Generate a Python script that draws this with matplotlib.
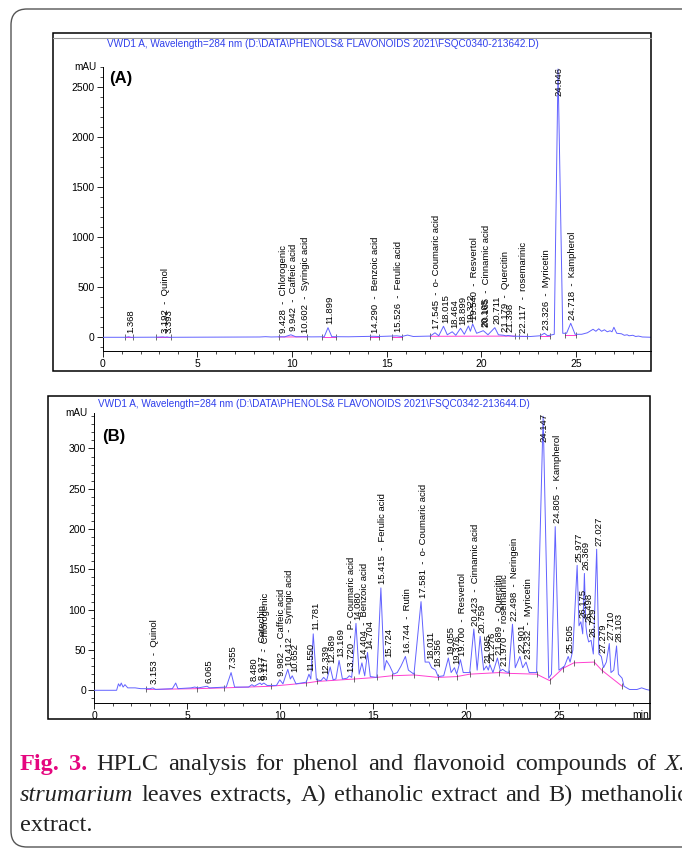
import numpy as np
import matplotlib.pyplot as plt
from matplotlib.patches import FancyBboxPatch, Rectangle
from matplotlib.ticker import MultipleLocator
from matplotlib.transforms import IdentityTransform

plt.rcParams['font.family'] = ['Liberation Sans', 'DejaVu Sans']

W, H = 682, 849

# ---- panel A: ethanolic extract (time min, signal mAU) ----
a_t = [0.0, 1.2, 1.37, 1.5, 2.8, 3.19, 3.3, 3.39, 3.5, 5.0, 8.3, 8.6, 8.9, 9.43, 9.6,
       9.94, 10.2, 10.6, 11.0, 11.7, 11.9, 12.1, 13.0, 14.29, 14.6, 15.53, 15.8, 16.1,
       16.4, 17.3, 17.55, 17.75, 18.0, 18.2, 18.46, 18.65, 18.9, 19.1, 19.32, 19.42,
       19.54, 19.75, 20.1, 20.17, 20.35, 20.71, 20.9, 21.18, 21.3, 21.4, 21.7, 22.12,
       22.6, 23.1, 23.33, 23.5, 23.85, 24.05, 24.3, 24.5, 24.72, 24.95, 25.3, 25.6,
       25.9, 26.05, 26.2, 26.35, 26.5, 26.65, 26.8, 26.9, 27.0, 27.15, 27.4, 27.55,
       27.7, 27.8, 28.0, 28.15, 28.3, 28.5, 29.0]
a_v = [0, 0, 5, 0, 1, 4, 1, 4, 0, 1, 3, 6, 3, 5, 4,
       25, 5, 6, 4, 5, 96, 6, 5, 10, 8, 14, 8, 22,
       8, 12, 45, 15, 110, 25, 55, 20, 90, 30, 113, 60,
       133, 40, 66, 55, 25, 96, 25, 20, 14, 18, 10, 10,
       8, 15, 40, 15, 30, 2680, 40, 40, 140, 30, 30, 45,
       80, 60, 85, 60, 75, 55, 65, 55, 100, 40, 35, 20,
       25, 15, 20, 8, 12, 3, 0]
a_base_t = [[1.2, 1.6], [2.8, 3.6], [9.3, 10.8], [11.6, 12.3], [14.1, 14.6],
            [15.3, 15.8], [17.3, 21.8], [22.0, 22.4], [23.1, 23.6], [24.4, 25.0]]
a_base_v = [[0, 0], [1, 1], [3, 4], [4, 4], [5, 5],
            [6, 6], [10, 12], [8, 8], [12, 12], [25, 25]]
a_lab_t = [1.368, 3.192, 3.393, 9.428, 9.942, 10.602, 11.899, 14.290, 15.526, 17.545,
           18.015, 18.464, 18.899, 19.322, 19.540, 20.105, 20.165, 20.711, 21.179,
           21.398, 22.117, 23.326, 24.046, 24.718]
a_lab_n = ['', 'Quinol', '', 'Chlorogenic', 'Caffeic acid', 'Syringic acid', '',
           'Benzoic acid', 'Ferulic acid', 'o- Coumaric acid', '', '', '', '',
           'Resvertol', '', 'Cinnamic acid', '', 'Quercitin', '', 'rosemarinic',
           'Myricetin', '', 'Kampherol']

# ---- panel B: methanolic extract ----
b_t = [0.0, 1.2, 1.3, 1.38, 1.45, 1.55, 1.65, 1.8, 2.2, 2.5, 3.0, 3.15, 3.3, 4.2, 4.38,
       4.5, 5.2, 5.4, 5.6, 6.07, 6.2, 7.1, 7.36, 7.55, 8.3, 8.48, 8.6, 8.92, 9.0, 9.12,
       9.3, 9.8, 9.98, 10.15, 10.41, 10.55, 10.65, 10.85, 11.4, 11.55, 11.65, 11.78,
       11.95, 12.2, 12.34, 12.5, 12.69, 12.85, 13.0, 13.17, 13.35, 13.6, 13.72, 13.85,
       14.08, 14.25, 14.4, 14.55, 14.7, 14.85, 15.2, 15.42, 15.6, 15.72, 15.9, 16.1,
       16.3, 16.5, 16.74, 16.9, 17.2, 17.58, 17.8, 18.01, 18.15, 18.36, 18.5, 18.8,
       19.05, 19.2, 19.38, 19.5, 19.7, 19.85, 20.2, 20.42, 20.6, 20.76, 20.95, 21.1,
       21.2, 21.28, 21.45, 21.69, 21.85, 21.97, 22.15, 22.3, 22.5, 22.65, 22.9, 23.05,
       23.23, 23.4, 23.8, 24.15, 24.45, 24.6, 24.8, 25.0, 25.3, 25.5, 25.6, 25.75,
       25.98, 26.08, 26.18, 26.28, 26.37, 26.45, 26.5, 26.6, 26.73, 26.85, 27.03,
       27.15, 27.28, 27.4, 27.55, 27.71, 27.8, 27.95, 28.1, 28.2, 28.4, 28.5, 28.8,
       29.2, 29.45, 29.7, 29.9]
b_v = [0, 0, 8, 5, 9, 4, 7, 3, 3, 2, 2, 3, 1, 2, 9,
       2, 3, 4, 3, 5, 3, 4, 22, 4, 4, 7, 5, 9, 7, 9,
       6, 6, 13, 8, 26, 14, 18, 8, 10, 20, 14, 70,
       13, 12, 16, 12, 29, 13, 14, 37, 14, 15, 18, 16,
       83, 20, 34, 18, 47, 17, 16, 127, 25, 37, 30, 20,
       22, 30, 42, 25, 20, 110, 35, 35, 28, 25, 17, 18,
       40, 22, 28, 20, 38, 22, 22, 76, 25, 67, 25, 30,
       25, 32, 22, 40, 24, 26, 23, 22, 82, 28, 42, 28,
       35, 22, 22, 340, 15, 20, 203, 25, 30, 42, 35, 50,
       155, 80, 85, 70, 145, 80, 70, 60, 62, 45, 175,
       45, 42, 28, 35, 58, 22, 25, 55, 20, 15, 5, 1,
       1, 3, 1, 0]
b_base_t = [2.8, 5.5, 7.0, 9.5, 11.4, 12.0, 14.0, 15.2, 16.0, 17.2, 18.5, 19.5, 20.2,
            21.8, 22.3, 23.8, 24.5, 25.2, 25.8, 26.9, 27.3, 28.4]
b_base_v = [1, 2, 3, 5, 9, 11, 14, 16, 18, 19, 16, 17, 20,
            22, 21, 20, 12, 27, 34, 35, 25, 5]
b_lab_t = [3.153, 6.065, 7.355, 8.480, 8.917, 9.117, 9.982, 10.412, 10.652, 11.550,
           11.781, 12.339, 12.689, 13.169, 13.720, 14.080, 14.404, 14.704, 15.415,
           15.724, 16.744, 17.581, 18.011, 18.356, 19.055, 19.376, 19.700, 20.423,
           20.759, 21.095, 21.276, 21.689, 21.970, 22.498, 22.901, 23.232, 24.147,
           24.805, 25.505, 25.977, 26.175, 26.369, 26.498, 26.729, 27.027, 27.279,
           27.710, 28.103]
b_lab_n = ['Quinol', '', '', '', 'Catechin', 'Chlorogenic', 'Caffeic acid',
           'Syringic acid', '', '', '', '', '', '', 'P- Coumaric acid', '',
           'Benzoic acid', '', 'Ferulic acid', '', 'Rutin', 'o- Coumaric acid', '', '',
           '', '', 'Resvertol', 'Cinnamic acid', '', '', '', 'Quercitin', 'rosemarinic',
           'Neringein', '', 'Myricetin', '', 'Kampherol', '', '', '', '', '', '', '',
           '', '', '']

TRACE = '#6262ff'
BASE = '#ff3fd0'
TITLE = '#3040ec'

fig = plt.figure(figsize=(W / 100, H / 100), dpi=100)


def frac(l, t, r, b):
    return [l / W, 1 - b / H, (r - l) / W, (b - t) / H]


def panel(rect, frame, t, v, bt, bv, lab_t, lab_n, xlim, ylim, major, minor,
          title, tag, title_xy, tag_xy, minlabel):
    fig.add_artist(Rectangle((frame[0] / W, 1 - frame[3] / H),
                             (frame[2] - frame[0]) / W, (frame[3] - frame[1]) / H,
                             transform=fig.transFigure, fill=False, lw=1.1, ec='black'))
    ax = fig.add_axes(frac(*rect))
    ax.patch.set_alpha(0)
    ax.plot(t, v, color=TRACE, lw=0.7, zorder=3)
    if isinstance(bt[0], list):
        for st, sv in zip(bt, bv):
            ax.plot(st, sv, color=BASE, lw=0.7, zorder=2)
            ax.plot(st, sv, ls='none', marker='|', ms=4, mew=0.5, color='#333333',
                    zorder=2)
    else:
        ax.plot(bt, bv, color=BASE, lw=0.7, zorder=2)
        ax.plot(bt, bv, ls='none', marker='|', ms=4, mew=0.5, color='#333333', zorder=2)
    ax.set_xlim(*xlim)
    ax.set_ylim(*ylim)
    for s in ['top', 'right']:
        ax.spines[s].set_visible(False)
    for s in ['left', 'bottom']:
        ax.spines[s].set_linewidth(0.7)
    ax.xaxis.set_minor_locator(MultipleLocator(1))
    ax.yaxis.set_major_locator(MultipleLocator(major))
    ax.yaxis.set_minor_locator(MultipleLocator(minor))
    ax.set_xticks([0, 5, 10, 15, 20, 25])
    ax.tick_params(which='major', length=4, width=0.6, labelsize=7.5, pad=2)
    ax.tick_params(which='minor', length=2.5, width=0.5)
    ax.text(-0.012, 1.0, 'mAU', transform=ax.transAxes, ha='right', va='center',
            fontsize=7.2)
    if minlabel:
        ax.text(29.42, -0.025, 'min', transform=ax.get_xaxis_transform(),
                ha='center', va='top', fontsize=7.5)
    fig.text(title_xy[0] / W, 1 - title_xy[1] / H, title, color=TITLE, fontsize=7.2,
             ha='left', va='center')
    fig.text(tag_xy[0] / W, 1 - tag_xy[1] / H, tag, fontsize=12, fontweight='bold',
             ha='left', va='center')
    ta = np.array(t)
    va = np.array(v)
    ytop = ylim[1]
    for rt, name in zip(lab_t, lab_n):
        near = np.abs(ta - rt) <= 0.08
        apex = va[near].max() if near.any() else 0
        s = '%.3f' % rt + ('  -  ' + name if name else '')
        if apex > 0.85 * ytop:
            ax.text(rt + 0.07, ytop, s, rotation=90, ha='center', va='top',
                    fontsize=6.8, zorder=4)
        else:
            ax.annotate(s, (rt, apex), xytext=(1.5, 2.5), textcoords='offset points',
                        rotation=90, ha='center', va='bottom', fontsize=6.8, zorder=4)
    return ax


panel((102.7, 67, 651, 351), (53, 33, 651, 371), a_t, a_v, a_base_t, a_base_v,
      a_lab_t, a_lab_n, (0, 28.96), (-137, 2700), 500, 100,
      r'VWD1 A, Wavelength=284 nm (D:\DATA\PHENOLS& FLAVONOIDS 2021\FSQC0340-213642.D)',
      '(A)', (107, 44), (109, 78), False)
fig.add_artist(plt.Line2D([53 / W, 651 / W], [1 - 38 / H, 1 - 38 / H],
                          transform=fig.transFigure, color='#999999', lw=0.8))

panel((94.3, 413, 650, 702.7), (48, 396, 650, 719), b_t, b_v, b_base_t, b_base_v,
      b_lab_t, b_lab_n, (0, 29.9), (-15.4, 344), 50, 10,
      r'VWD1 A, Wavelength=284 nm (D:\DATA\PHENOLS& FLAVONOIDS 2021\FSQC0342-213644.D)',
      '(B)', (98, 404), (102, 437), True)

# page border with rounded corners
fig.add_artist(FancyBboxPatch((11, 2), 720, 838, boxstyle='round,pad=0,rounding_size=16',
                              transform=IdentityTransform(), fill=False, ec='#555555',
                              lw=1.0))

# caption (justified lines)
ink = '#222222'
caption = [
    (770, [('Fig.', 'bold', 'normal', '#e5067f'), ('3.', 'bold', 'normal', '#e5067f'),
           ('HPLC', 'normal', 'normal', ink), ('analysis', 'normal', 'normal', ink),
           ('for', 'normal', 'normal', ink), ('phenol', 'normal', 'normal', ink),
           ('and', 'normal', 'normal', ink), ('flavonoid', 'normal', 'normal', ink),
           ('compounds', 'normal', 'normal', ink), ('of', 'normal', 'normal', ink),
           ('X.', 'normal', 'italic', ink)], 686),
    (801, [('strumarium', 'normal', 'italic', ink), ('leaves', 'normal', 'normal', ink),
           ('extracts,', 'normal', 'normal', ink), ('A)', 'normal', 'normal', ink),
           ('ethanolic', 'normal', 'normal', ink), ('extract', 'normal', 'normal', ink),
           ('and', 'normal', 'normal', ink), ('B)', 'normal', 'normal', ink),
           ('methanolic', 'normal', 'normal', ink)], 689),
    (831, [('extract.', 'normal', 'normal', ink)], None),
]
renderer = fig.canvas.get_renderer()
for ybase, words, xend in caption:
    arts = []
    widths = []
    for w, wt, st, col in words:
        a = fig.text(0, 1 - ybase / H, w, fontsize=17.5, fontweight=wt, fontstyle=st,
                     color=col, family=['Liberation Serif', 'DejaVu Serif'],
                     ha='left', va='baseline')
        arts.append(a)
        widths.append(a.get_window_extent(renderer).width)
    if xend is None or len(words) == 1:
        gap = 8
    else:
        gap = (xend - 20 - sum(widths)) / (len(words) - 1)
    x = 20
    for a, wd in zip(arts, widths):
        a.set_x(x / W)
        x += wd + gap

fig.savefig('out.png', dpi=100)
